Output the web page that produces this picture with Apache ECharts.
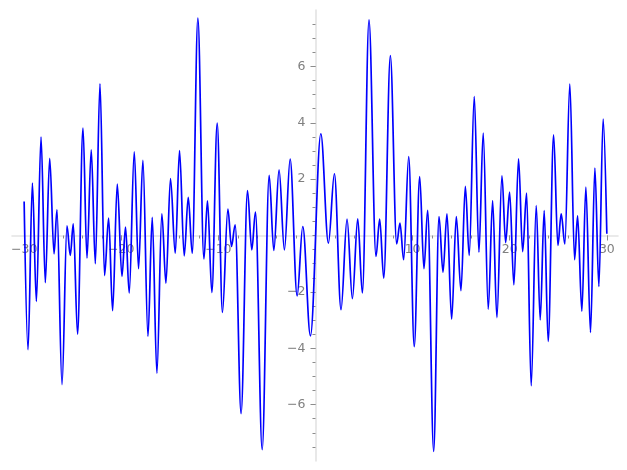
<!DOCTYPE html>
<html>
<head>
<meta charset="utf-8">
<script src="https://cdn.jsdelivr.net/npm/echarts@6/dist/echarts.min.js"></script>
<style>html,body{margin:0;padding:0;background:#fff}#c{width:627px;height:470px}</style>
</head>
<body>
<div id="c"></div>
<script>
// x positions of the curve's turning points
const xs = [-30, -29.6, -29.15, -28.74, -28.26, -27.82, -27.37, -26.92, -26.62, -26.1,
  -25.59, -25.25, -24.94, -24.5, -23.94, -23.53, -23.09, -22.67, -22.19, -21.72,
  -21.3, -20.89, -20.41, -19.93, -19.56, -19.18, -18.66, -18.22, -17.77, -17.25,
  -16.81, -16.33, -15.82, -15.4, -14.93, -14.44, -14.0, -13.52, -13.1, -12.69,
  -12.11, -11.49, -11.12, -10.67, -10.12, -9.58, -9.02, -8.65, -8.27, -7.66,
  -7.0, -6.56, -6.18, -5.49, -4.77, -4.29, -3.75, -3.2, -2.61, -1.89,
  -1.31, -0.52, 0.55, 1.33, 1.95, 2.63, 3.25, 3.8, 4.35, 4.83,
  5.51, 6.23, 6.61, 7.03, 7.71, 8.36, 8.7, 9.08, 9.6, 10.17,
  10.73, 11.17, 11.55, 12.17, 12.72, 13.13, 13.54, 14.02, 14.5, 14.98,
  15.43, 15.83, 16.35, 16.83, 17.27, 17.79, 18.24, 18.68, 19.2, 19.58,
  19.99, 20.43, 20.91, 21.33, 21.74, 22.21, 22.73, 23.14, 23.55, 23.96,
  24.52, 24.96, 25.3, 25.68, 26.19, 26.68, 26.99, 27.43, 27.84, 28.32,
  28.77, 29.18, 29.62, 30];
// y values at those points
const ys = [1.21, -4.05, 1.86, -2.34, 3.49, -1.67, 2.74, -0.65, 0.91, -5.29,
  0.34, -0.71, 0.41, -3.5, 3.81, -0.8, 3.04, -1.0, 5.38, -1.42,
  0.62, -2.67, 1.82, -1.45, 0.3, -2.04, 2.97, -1.18, 2.67, -3.58,
  0.64, -4.88, 0.77, -1.69, 2.02, -0.63, 3.01, -0.72, 1.35, -0.63,
  7.71, -0.83, 1.23, -2.02, 3.99, -2.73, 0.94, -0.39, 0.38, -6.32,
  1.59, -0.51, 0.83, -7.6, 2.13, -0.53, 2.33, -0.51, 2.71, -2.14,
  0.32, -3.56, 3.61, -0.27, 2.19, -2.63, 0.58, -2.24, 0.59, -2.04,
  7.65, -0.74, 0.58, -1.51, 6.38, -0.3, 0.44, -0.86, 2.8, -3.94,
  2.09, -1.18, 0.89, -7.66, 0.67, -1.3, 0.77, -2.97, 0.67, -1.96,
  1.74, -0.71, 4.93, -0.59, 3.63, -2.61, 1.24, -2.91, 2.12, -0.25,
  1.54, -1.75, 2.72, -0.57, 1.5, -5.33, 1.06, -2.99, 0.88, -3.76,
  3.57, -0.35, 0.77, -0.3, 5.37, -0.86, 0.7, -2.69, 1.72, -3.44,
  2.39, -1.81, 4.13, 0.06];
const xLabels = [-30, -20, -10, 10, 20, 30];
const xMinor = [];
for (let v = -30; v <= 30; v += 2) xMinor.push(v);
const yLabels = [-6, -4, -2, 2, 4, 6];
const yMinor = [];
for (let v = -7.5; v <= 7.5; v += 0.5) yMinor.push(v);

const X_MIN = -31.25, X_MAX = 31.15, Y_MIN = -8, Y_MAX = 8;
const G_LEFT = 12, G_TOP = 10, G_W = 606, G_H = 451;
// distances from grid edges to the zero lines (axes cross at the origin)
const xOff = -(G_H * (0 - Y_MIN) / (Y_MAX - Y_MIN));
const yOff = -(G_W * (0 - X_MIN) / (X_MAX - X_MIN));

const fmt = v => (v < 0 ? '\u2212' + Math.abs(v) : String(v));
const axisLineStyle = { color: '#e3e3e3', width: 1.6 };
const tickColor = '#8c8c8c';
const labelStyle = { color: '#808080', fontFamily: 'DejaVu Sans', fontSize: 12.5 };

const chart = echarts.init(document.getElementById('c'), null, { renderer: 'canvas' });
chart.setOption({
  animation: false,
  backgroundColor: '#ffffff',
  grid: { left: G_LEFT, top: G_TOP, width: G_W, height: G_H, containLabel: false, outerBoundsMode: 'none' },
  xAxis: [
    {
      type: 'value', min: X_MIN, max: X_MAX, position: 'bottom', offset: xOff,
      axisLine: { show: true, onZero: false, lineStyle: axisLineStyle },
      axisTick: { show: true, customValues: xLabels, length: 5, lineStyle: { color: tickColor, width: 1 } },
      axisLabel: { show: true, customValues: xLabels, margin: 8, formatter: fmt, ...labelStyle },
      splitLine: { show: false }
    },
    {
      type: 'value', min: X_MIN, max: X_MAX, position: 'bottom', offset: xOff,
      axisLine: { show: false, onZero: false },
      axisTick: { show: true, customValues: xMinor, length: 3, lineStyle: { color: tickColor, width: 1 } },
      axisLabel: { show: false },
      splitLine: { show: false }
    }
  ],
  yAxis: [
    {
      type: 'value', min: Y_MIN, max: Y_MAX, position: 'left', offset: yOff,
      axisLine: { show: true, onZero: false, lineStyle: axisLineStyle },
      axisTick: { show: true, customValues: yLabels, length: 5, lineStyle: { color: tickColor, width: 1 } },
      axisLabel: { show: true, customValues: yLabels, margin: 10, formatter: fmt, ...labelStyle },
      splitLine: { show: false }
    },
    {
      type: 'value', min: Y_MIN, max: Y_MAX, position: 'left', offset: yOff,
      axisLine: { show: false, onZero: false },
      axisTick: { show: true, customValues: yMinor, length: 3, lineStyle: { color: tickColor, width: 1 } },
      axisLabel: { show: false },
      splitLine: { show: false }
    }
  ],
  series: [{
    type: 'line',
    xAxisIndex: 0, yAxisIndex: 0,
    data: xs.map((x, i) => [x, ys[i]]),
    smooth: 0.35,
    smoothMonotone: 'x',
    showSymbol: false,
    symbol: 'none',
    lineStyle: { color: '#0000ff', width: 1.7 },
    z: 5
  }]
});
</script>
</body>
</html>
